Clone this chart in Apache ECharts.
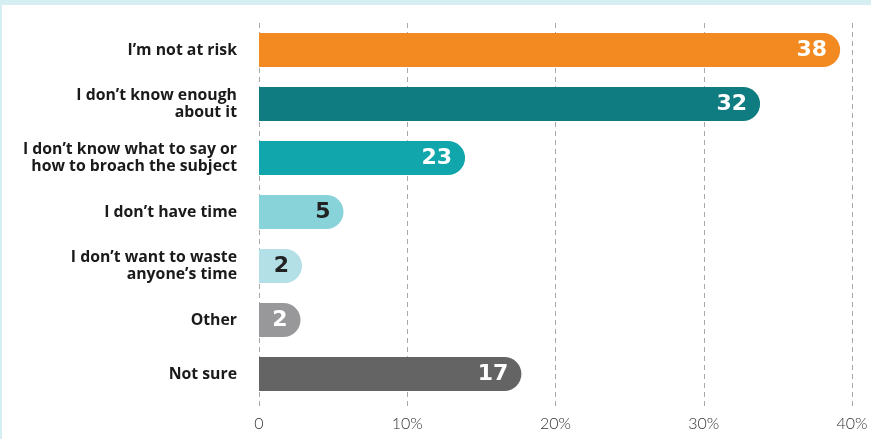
<!DOCTYPE html>
<html>
<head>
<meta charset="utf-8">
<script src="https://cdn.jsdelivr.net/npm/echarts@6/dist/echarts.min.js"></script>
<style>
  html, body { margin: 0; padding: 0; background: #fff; }
  #chart { width: 871px; height: 439px; }
</style>
</head>
<body>
<div id="chart"></div>
<script>
// categories, top to bottom
const categories = [
  'I\u2019m not at risk',
  'I don\u2019t know enough\nabout it',
  'I don\u2019t know what to say or\nhow to broach the subject',
  'I don\u2019t have time',
  'I don\u2019t want to waste\nanyone\u2019s time',
  'Other',
  'Not sure'
]
// bar lengths as drawn against the % axis
const barValues = [39.2, 33.8, 13.9, 5.7, 2.9, 2.8, 17.7]
// numbers printed on the bars
const barLabels = [38, 32, 23, 5, 2, 2, 17]
const barColors = ['#f28a21', '#0e7c80', '#10a6ab', '#88d2da', '#b2e0e6', '#98989b', '#646464']
const labelColors = ['#fff', '#fff', '#fff', '#222', '#222', '#fff', '#fff']
const xTicks = ['0', '10%', '20%', '30%', '40%']

const chart = echarts.init(document.getElementById('chart'))

const dashed = {
  color: '#a8a8a8',
  width: 1,
  type: [5, 4]
}

chart.setOption({
  backgroundColor: '#fff',
  animation: false,
  graphic: [
    // light frame at top and left
    { type: 'rect', left: 0, top: 0, shape: { width: 871, height: 5 }, style: { fill: '#d5eef1' } },
    { type: 'rect', left: 0, top: 0, shape: { width: 2, height: 439 }, style: { fill: '#d5eef1' } }
  ],
  grid: {
    left: 259,
    right: 19,
    top: 23,
    height: 378
  },
  xAxis: {
    type: 'value',
    min: 0,
    max: 40,
    interval: 10,
    axisLine: { show: false },
    axisTick: {
      show: true,
      length: 9,
      lineStyle: dashed
    },
    splitLine: {
      show: true,
      lineStyle: dashed
    },
    axisLabel: {
      margin: 15,
      color: '#333',
      fontFamily: 'Lato',
      fontWeight: 300,
      fontSize: 16,
      formatter: function(v) {
        return xTicks[Math.round(v / 10)]
      }
    }
  },
  yAxis: {
    type: 'category',
    inverse: true,
    data: categories,
    axisLine: { show: false },
    axisTick: { show: false },
    axisLabel: {
      margin: 22,
      color: '#1a1a1a',
      fontFamily: 'Open Sans',
      fontWeight: 'bold',
      fontSize: 15.8,
      lineHeight: 17,
      align: 'right'
    }
  },
  series: [
    {
      type: 'bar',
      barWidth: 34,
      data: barValues.map(function(v, i) {
        return {
          value: v,
          itemStyle: { color: barColors[i], borderRadius: [0, 17, 17, 0] },
          label: { color: labelColors[i] }
        }
      }),
      label: {
        show: true,
        position: 'insideRight',
        distance: 13,
        fontFamily: 'DejaVu Sans',
        fontWeight: 'bold',
        fontSize: 22,
        formatter: function(p) {
          return barLabels[p.dataIndex]
        }
      }
    }
  ]
})
</script>
</body>
</html>
